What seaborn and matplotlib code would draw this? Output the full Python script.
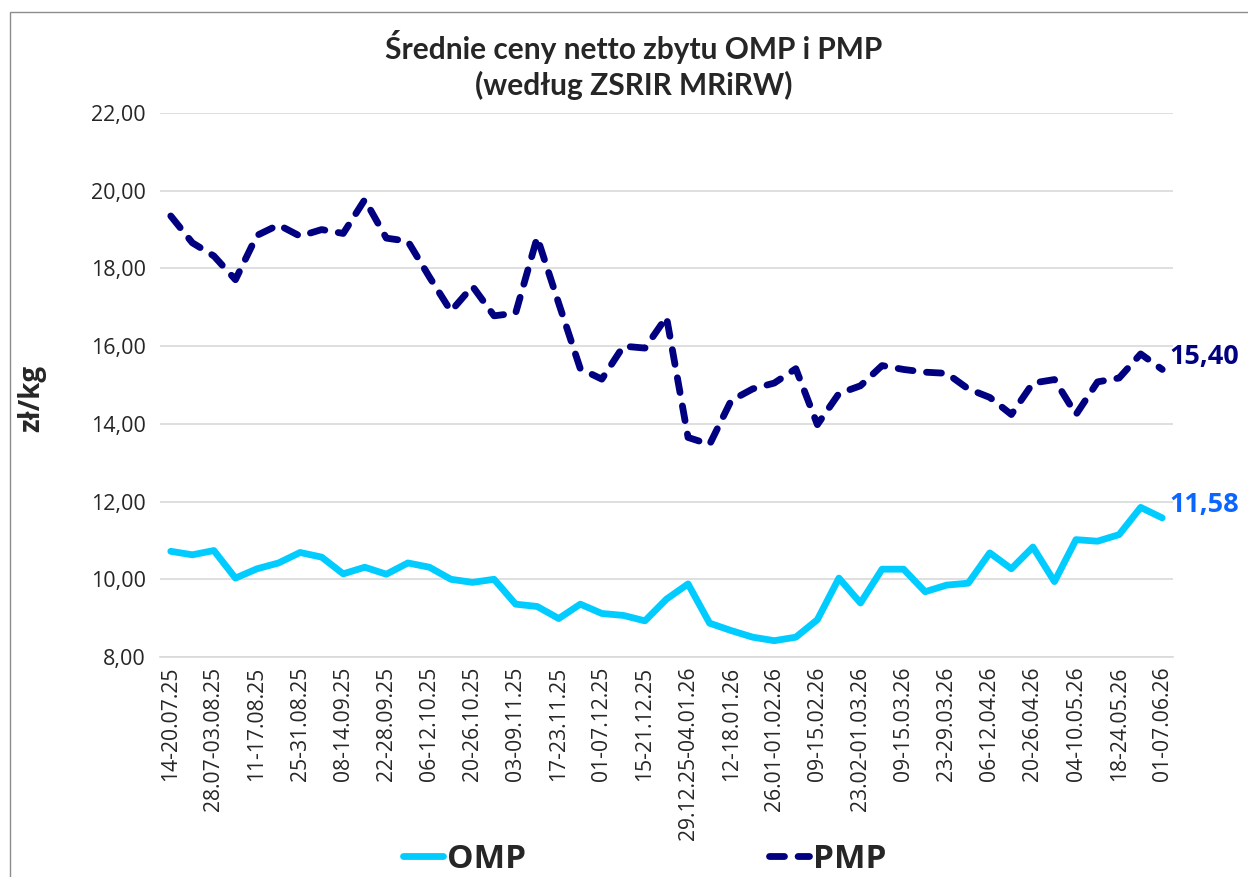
import matplotlib
matplotlib.use("Agg")
import matplotlib.pyplot as plt
import matplotlib.patches as mpatches
from matplotlib.ticker import FuncFormatter, FixedLocator
import seaborn as sns
import pandas as pd

weeks = [
    "14-20.07.25", "21-27.07.25", "28.07-03.08.25", "04-10.08.25", "11-17.08.25",
    "18-24.08.25", "25-31.08.25", "01-07.09.25", "08-14.09.25", "15-21.09.25",
    "22-28.09.25", "29.09-05.10.25", "06-12.10.25", "13-19.10.25", "20-26.10.25",
    "27.10-02.11.25", "03-09.11.25", "10-16.11.25", "17-23.11.25", "24-30.11.25",
    "01-07.12.25", "08-14.12.25", "15-21.12.25", "22-28.12.25", "29.12.25-04.01.26",
    "05-11.01.26", "12-18.01.26", "19-25.01.26", "26.01-01.02.26", "02-08.02.26",
    "09-15.02.26", "16-22.02.26", "23.02-01.03.26", "02-08.03.26", "09-15.03.26",
    "16-22.03.26", "23-29.03.26", "30.03-05.04.26", "06-12.04.26", "13-19.04.26",
    "20-26.04.26", "27.04-03.05.26", "04-10.05.26", "11-17.05.26", "18-24.05.26",
    "25-31.05.26", "01-07.06.26",
]

omp = [10.72, 10.63, 10.74, 10.03, 10.27, 10.42, 10.69, 10.57, 10.14, 10.31,
       10.13, 10.42, 10.31, 10.00, 9.92, 10.00, 9.36, 9.30, 8.99, 9.36,
       9.12, 9.07, 8.93, 9.49, 9.88, 8.87, 8.68, 8.51, 8.42, 8.51,
       8.96, 10.03, 9.39, 10.26, 10.26, 9.68, 9.85, 9.90, 10.68, 10.27,
       10.83, 9.94, 11.02, 10.98, 11.15, 11.85, 11.58]

pmp = [19.35, 18.66, 18.32, 17.71, 18.85, 19.12, 18.83, 19.00, 18.90, 19.77,
       18.78, 18.70, 17.78, 16.90, 17.54, 16.78, 16.85, 18.80, 17.10, 15.42,
       15.15, 16.00, 15.95, 16.75, 13.65, 13.47, 14.60, 14.90, 15.05, 15.42,
       13.98, 14.78, 14.98, 15.50, 15.40, 15.33, 15.30, 14.90, 14.68, 14.24,
       15.05, 15.14, 14.24, 15.08, 15.18, 15.80, 15.40]

y_ticks = [8, 10, 12, 14, 16, 18, 20, 22]

title = "Średnie ceny netto zbytu OMP i PMP\n(według ZSRIR MRiRW)"
ylabel = "zł/kg"

C_OMP = "#00CCFF"
C_PMP = "#000080"
C_OMP_LBL = "#0A66FF"

sns.set_theme(style="white")
plt.rcParams["font.family"] = ["Open Sans", "DejaVu Sans"]

df = pd.DataFrame({"idx": list(range(len(weeks))), "week": weeks, "OMP": omp, "PMP": pmp})

fig = plt.figure(figsize=(12.48, 8.77), dpi=100)
ax = fig.add_axes([160 / 1248, 1 - 657 / 877, 1013 / 1248, 544 / 877])

sns.lineplot(data=df, x="idx", y="OMP", ax=ax, color=C_OMP, linewidth=4.9, label="OMP")
sns.lineplot(data=df, x="idx", y="PMP", ax=ax, color=C_PMP, linewidth=4.9, label="PMP")
l_omp, l_pmp = ax.lines[0], ax.lines[1]
l_pmp.set_dashes((2.2, 2.0))
for ln in (l_omp, l_pmp):
    ln.set_solid_capstyle("round")
    ln.set_dash_capstyle("round")
    ln.set_solid_joinstyle("round")
    ln.set_dash_joinstyle("round")

ax.set_xlim(-0.5, len(weeks) - 0.5)
ax.set_ylim(8, 22)
ax.yaxis.set_major_locator(FixedLocator(y_ticks))
ax.yaxis.set_major_formatter(FuncFormatter(lambda v, p: f"{v:.2f}".replace(".", ",")))
ax.set_xticks(df["idx"][::2])
ax.set_xticklabels(df["week"][::2], rotation=90, fontsize=15.2)
ax.tick_params(axis="y", labelsize=15.5, pad=10, length=0)
ax.tick_params(axis="x", pad=7, length=0)
ax.grid(axis="y", color="#D9D9D9", linewidth=1.2)
ax.grid(axis="x", visible=False)
for s in ["left", "right", "top"]:
    ax.spines[s].set_visible(False)
ax.spines["bottom"].set_color("#D9D9D9")
ax.spines["bottom"].set_linewidth(1.2)
ax.set_xlabel("")
ax.set_ylabel(ylabel, fontsize=20, fontweight="bold")
ax.yaxis.set_label_coords(-0.112, 0.476)

last = len(weeks) - 1
ax.annotate(f"{pmp[-1]:.2f}".replace(".", ","), xy=(last, pmp[-1]), xytext=(5, 9),
            textcoords="offset points", ha="left", va="center", fontsize=19.5,
            fontweight="bold", color=C_PMP, annotation_clip=False)
ax.annotate(f"{omp[-1]:.2f}".replace(".", ","), xy=(last, omp[-1]), xytext=(5, 9),
            textcoords="offset points", ha="left", va="center", fontsize=19.5,
            fontweight="bold", color=C_OMP_LBL, annotation_clip=False)

fig.text(634 / 1248, 1 - 65 / 877, title, ha="center", va="center", fontsize=21.5,
         fontweight="bold", family=["Lato", "DejaVu Sans"], linespacing=1.3)

leg = ax.legend(handles=[l_omp, l_pmp], labels=["OMP", "PMP"], loc="center",
                bbox_to_anchor=(645 / 1248, 1 - 859 / 877), bbox_transform=fig.transFigure,
                ncol=2, frameon=False, prop={"size": 24, "weight": "bold"},
                handlelength=1.2, handletextpad=0.12, columnspacing=7.3)

frame = mpatches.Rectangle((10 / 1248, -0.1), 2.0, 1.1 - 12 / 877, transform=fig.transFigure,
                           fill=False, edgecolor="#8C8C8C", linewidth=1.0, clip_on=False)
fig.patches.append(frame)

fig.savefig("out.png", dpi=100)
